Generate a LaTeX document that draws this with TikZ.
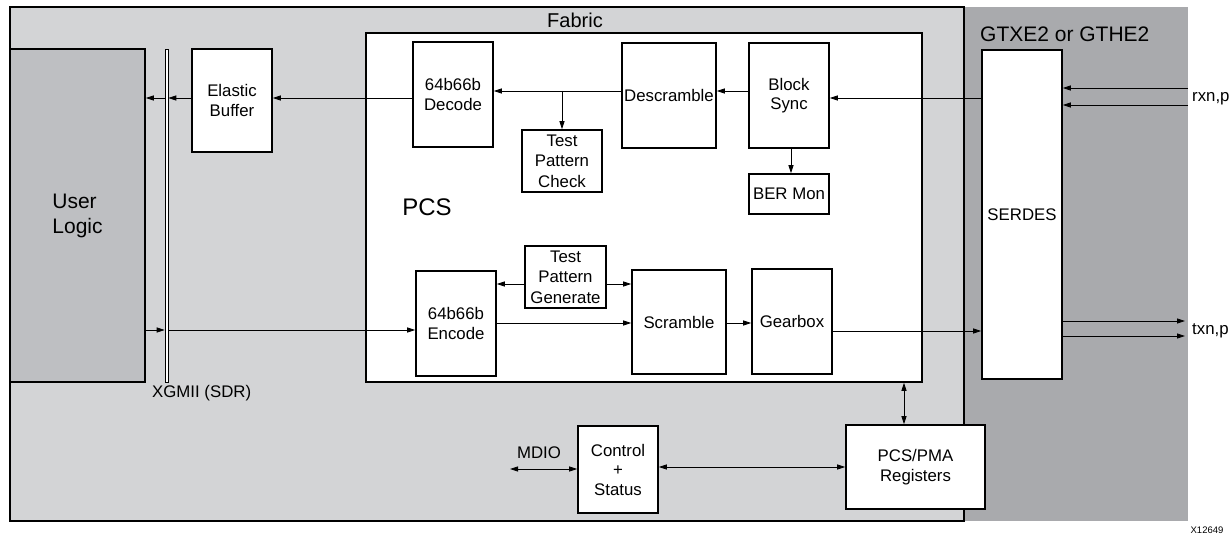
\documentclass[tikz,border=0pt]{standalone}
\usepackage{fontspec}
\setmainfont{Liberation Sans}
\usetikzlibrary{arrows.meta}
\definecolor{fab}{HTML}{D3D4D6}
\definecolor{gtc}{HTML}{A9AAAD}
\definecolor{ulc}{HTML}{BEBFC2}
\begin{document}
\begin{tikzpicture}[x=1pt,y=-1pt,
  blk/.style={draw=black,line width=1.6pt,fill=white,inner sep=0pt,align=center,
    font=\fontsize{16.8}{19.5}\selectfont},
  arr/.style={line width=0.8pt,-{Triangle[length=8pt,width=5pt]}},
  darr/.style={line width=0.8pt,{Triangle[length=8pt,width=5pt]}-{Triangle[length=8pt,width=5pt]}},
  lbl/.style={inner sep=0pt,font=\fontsize{16.8}{19.5}\selectfont}]
\useasboundingbox (0,0) rectangle (1232,535);
% regions
\fill[gtc] (964,7) rectangle (1188,521);
\draw[fill=fab,line width=1.6pt] (10,7) rectangle (964,521);
\node[lbl,font=\fontsize{20}{24}\selectfont] (fabl) at (575,20) {Fabric};
\node[lbl,font=\fontsize{21}{24}\selectfont,anchor=west] (gtl) at (980,34) {GTXE2 or GTHE2};
% user logic
\node[blk,fill=ulc,minimum width=135pt,minimum height=333pt,font=\fontsize{21}{25}\selectfont,align=left] (ul) at (77.5,215.5) {User\\Logic};
\node[draw=black,line width=0.6pt,fill=white,inner sep=0pt,minimum width=3pt,minimum height=333pt] (bar) at (166.5,215.5) {};
\node[lbl,anchor=north west] (xg) at (152,385) {XGMII (SDR)};
\node[blk,minimum width=80pt,minimum height=103pt] (eb) at (232,100.5) {Elastic\\Buffer};
% PCS
\node[blk,minimum width=556pt,minimum height=349pt] (pcs) at (644,207.5) {};
\node[lbl,font=\fontsize{24}{28}\selectfont] (pcsl) at (427,207) {PCS};
\node[blk,minimum width=80pt,minimum height=105pt] (dec) at (453,94.5) {64b66b\\Decode};
\node[blk,minimum width=94pt,minimum height=105pt] (desc) at (669,95.5) {Descramble};
\node[blk,minimum width=80pt,minimum height=105pt] (bs) at (789,95.5) {Block\\Sync};
\node[blk,minimum width=80pt,minimum height=62pt,font=\fontsize{16.8}{20.5}\selectfont] (tpc) at (562,161) {Test\\Pattern\\Check};
\node[blk,minimum width=80pt,minimum height=40pt] (ber) at (789,194) {BER Mon};
\node[blk,minimum width=81pt,minimum height=62pt,font=\fontsize{16.8}{20.5}\selectfont] (tpg) at (565.5,277) {Test\\Pattern\\Generate};
\node[blk,minimum width=80pt,minimum height=105pt] (enc) at (456,323.5) {64b66b\\Encode};
\node[blk,minimum width=94pt,minimum height=104pt] (scr) at (679,322) {Scramble};
\node[blk,minimum width=80pt,minimum height=105pt] (gear) at (792,321.5) {Gearbox};
% bottom
\node[blk,minimum width=80pt,minimum height=87pt] (ctrl) at (618,469.5) {Control\\+\\Status};
\node[blk,minimum width=139pt,minimum height=84pt] (regs) at (915.5,467) {PCS/PMA\\Registers};
\node[lbl] (mdio) at (539,453) {MDIO};
\coordinate (mdioe) at (510,469);
% serdes
\node[blk,minimum width=80pt,minimum height=329pt] (ser) at (1022,214.5) {SERDES};
\coordinate (rx1) at (1188,88);
\coordinate (rx2) at (1188,105);
\coordinate (tx1) at (1185,321);
\coordinate (tx2) at (1185,336);
\node[lbl,anchor=west] (rxl) at (1192,99) {rxn,p};
\node[lbl,anchor=west] (txl) at (1192,331) {txn,p};
\node[inner sep=0pt,font=\fontsize{9.5}{11}\selectfont] (id) at (1207,530) {X12649};
% receive path
\draw[arr] (ser.west |- 0,98) -- (bs.east |- 0,98);
\draw[arr] (bs.west |- 0,91) -- (desc.east |- 0,91);
\draw[arr] (desc.west |- 0,91) -- (dec.east |- 0,91);
\draw[arr] (562,91) -- (tpc.north);
\draw[arr] (bs.south -| 791,0) -- (ber.north -| 791,0);
\draw[arr] (dec.west |- 0,98) -- (eb.east |- 0,98);
\draw[arr] (eb.west |- 0,98) -- (bar.east |- 0,98);
\draw[arr] (bar.west |- 0,98) -- (ul.east |- 0,98);
\draw[arr] (rx1) -- (ser.east |- rx1);
\draw[arr] (rx2) -- (ser.east |- rx2);
% transmit path
\draw[arr] (ul.east |- 0,330) -- (bar.west |- 0,330);
\draw[arr] (bar.east |- 0,330) -- (enc.west |- 0,330);
\draw[arr] (tpg.west |- 0,284) -- (enc.east |- 0,284);
\draw[arr] (tpg.east |- 0,284) -- (scr.west |- 0,284);
\draw[arr] (enc.east |- 0,323) -- (scr.west |- 0,323);
\draw[arr] (scr.east |- 0,323) -- (gear.west |- 0,323);
\draw[arr] (gear.east |- 0,331) -- (ser.west |- 0,331);
\draw[arr] (ser.east |- tx1) -- (tx1);
\draw[arr] (ser.east |- tx2) -- (tx2);
% management
\draw[darr] (pcs.south -| 904,0) -- (regs.north -| 904,0);
\draw[darr] (mdioe) -- (ctrl.west |- mdioe);
\draw[darr] (ctrl.east |- 0,467) -- (regs.west |- 0,467);
\end{tikzpicture}
\end{document}
